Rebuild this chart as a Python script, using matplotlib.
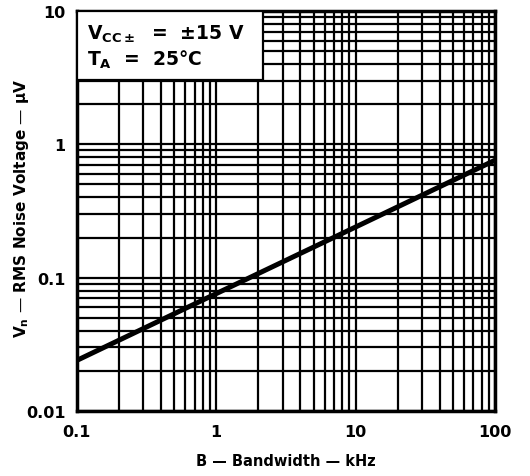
import matplotlib
matplotlib.use("Agg")
import matplotlib.pyplot as plt
from matplotlib.patches import Rectangle
import numpy as np

# Noise voltage vs bandwidth
bandwidth_khz = [0.1, 1, 10, 100]
noise_uv = [0.024, 0.076, 0.24, 0.76]

x_ticks = [0.1, 1, 10, 100]
x_tick_labels = ["0.1", "1", "10", "100"]
y_ticks = [0.01, 0.1, 1, 10]
y_tick_labels = ["0.01", "0.1", "1", "10"]

plt.rcParams['font.family'] = ['DejaVu Sans']
plt.rcParams['font.weight'] = 'bold'
plt.rcParams['mathtext.default'] = 'bf'

fig = plt.figure(figsize=(5.3, 4.77), dpi=100)
ax = fig.add_axes([0.145, 0.136, 0.789, 0.839])

ax.plot(bandwidth_khz, noise_uv, color='black', linewidth=3.6, solid_capstyle='butt', zorder=3)

ax.set_xscale('log')
ax.set_yscale('log')
ax.set_xlim(0.1, 100)
ax.set_ylim(0.01, 10)

ax.set_xticks(x_ticks)
ax.set_xticklabels(x_tick_labels)
ax.set_yticks(y_ticks)
ax.set_yticklabels(y_tick_labels)
ax.tick_params(which='both', length=0, labelsize=11.5)
ax.tick_params(axis='x', pad=9)
ax.tick_params(axis='y', pad=8)

ax.grid(True, which='both', color='black', linewidth=1.6)
for s in ax.spines.values():
    s.set_linewidth(2.5)

ax.set_xlabel("B \u2014 Bandwidth \u2014 kHz", fontsize=10.5, fontweight='bold')
ax.set_ylabel("V$_\\mathbf{n}$ \u2014 RMS Noise Voltage \u2014 \u03bcV", fontsize=11,
              fontweight='bold')
ax.xaxis.set_label_coords(0.5, -0.1225)
ax.xaxis.label.set_va('center')
ax.yaxis.set_label_coords(-0.132, 0.51)
ax.yaxis.label.set_va('center')

# condition box in upper-left corner
box = Rectangle((0.0, 0.828), 0.445, 0.172, transform=ax.transAxes,
                facecolor='white', edgecolor='black', linewidth=1.6, zorder=4)
ax.add_patch(box)
ax.text(0.025, 0.945, "V$_{CC\\pm}$  =  \u00b115 V", transform=ax.transAxes,
        fontsize=13.5, fontweight='bold', va='center', ha='left', zorder=5)
ax.text(0.025, 0.88, "T$_A$  =  25\u00b0C", transform=ax.transAxes,
        fontsize=13.5, fontweight='bold', va='center', ha='left', zorder=5)

fig.savefig("out.png", dpi=100)
